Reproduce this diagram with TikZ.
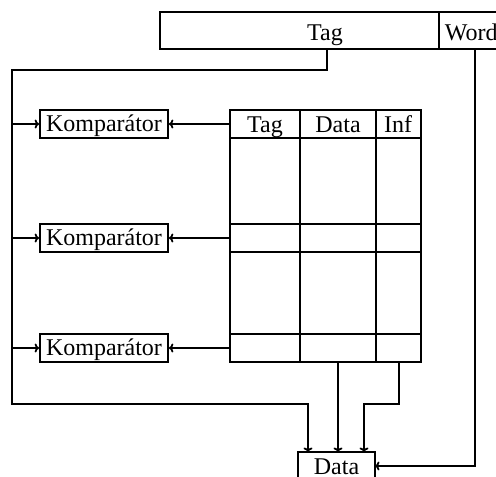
\documentclass[tikz,border=0pt]{standalone}
\usepackage{fontspec}
\setmainfont{Liberation Serif}
\usetikzlibrary{arrows.meta}
\begin{document}
\begin{tikzpicture}[x=1pt, y=-1pt, line width=1.8pt,
  every node/.style={font=\fontsize{24}{28}\selectfont, inner sep=0pt},
  wire/.style={draw, -{To[length=4.5pt,width=9pt]}},
  komp/.style={draw, rectangle, minimum width=128pt, minimum height=28pt,
               text height=17pt, text depth=3pt},
  lbl/.style={anchor=base}]
\useasboundingbox (0,0) rectangle (496,477);
\clip (0,0) rectangle (496,477);

% address register: Tag | Word
\draw (160,12) rectangle (520,49);
\draw (439,12) -- (439,49);
\node[lbl] (tag) at (325,40) {Tag};
\node[lbl, anchor=base west] (word) at (444,40) {Word};
\coordinate (tagout) at (327,49);
\coordinate (wordout) at (475,49);

% comparators
\node[komp] (k1) at (104,124) {Komparátor};
\node[komp] (k2) at (104,238) {Komparátor};
\node[komp] (k3) at (104,348) {Komparátor};

% cache table
\draw (230,110) rectangle (421,362);
\draw (300,110) -- (300,362);
\draw (376,110) -- (376,362);
\foreach \y in {138,224,252,334} \draw (230,\y) -- (421,\y);
\node[lbl] (htag) at (265,132) {Tag};
\node[lbl] (hdata) at (338,132) {Data};
\node[lbl] (hinf) at (398,132) {Inf};
\coordinate (row1) at (230,124);
\coordinate (row2) at (230,238);
\coordinate (row3) at (230,348);
\coordinate (dataout) at (338,362);
\coordinate (infout) at (399,362);

% output selector
\node[draw, anchor=base, minimum width=77pt, text height=22pt, text depth=20pt]
  (dbox) at (336.5,474) {Data};
\coordinate (in1) at (308,452);
\coordinate (in2) at (338,452);
\coordinate (in3) at (364,452);
\coordinate (in4) at (375,466);

% tag bus
\coordinate (bus1) at (12,124);
\coordinate (bus2) at (12,238);
\coordinate (bus3) at (12,348);
\draw[wire] (tagout) -- (327,70) -- (12,70) -- (12,404) -- (308,404) -- (in1);
\draw[wire] (bus1) -- (k1.west);
\draw[wire] (bus2) -- (k2.west);
\draw[wire] (bus3) -- (k3.west);

% stored tags into comparators
\draw[wire] (row1) -- (k1.east);
\draw[wire] (row2) -- (k2.east);
\draw[wire] (row3) -- (k3.east);

% data and info into selector
\draw[wire] (dataout) -- (in2);
\draw[wire] (infout) |- (364,404) -- (in3);
\draw[wire] (wordout) |- (in4);
\end{tikzpicture}
\end{document}
